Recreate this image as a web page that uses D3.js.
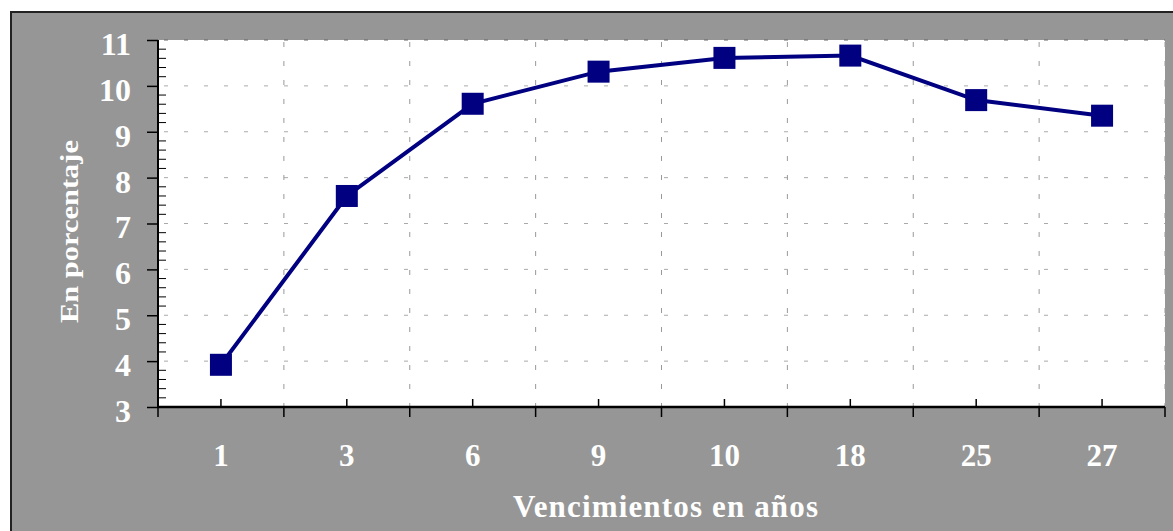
<!DOCTYPE html>
<html lang="en">
<head>
    <meta charset="UTF-8">
    <title>Vencimientos</title>
    <script src="https://d3js.org/d3.v7.min.js"></script>
    <style>
        body { margin: 0; background: #fff; }
        svg { display: block; }
    </style>
</head>
<body>
    <svg id="chart" width="1173" height="531"></svg>
    <script>
        // data
        const maturities = ["1", "3", "6", "9", "10", "18", "25", "27"];
        const rates = [3.92, 7.60, 9.61, 10.31, 10.61, 10.66, 9.69, 9.35];
        const yTicks = [3, 4, 5, 6, 7, 8, 9, 10, 11];

        const svg = d3.select("#chart");
        const width = +svg.attr("width");
        const height = +svg.attr("height");
        const margin = { top: 40, right: 8, bottom: 124, left: 158 };
        const plotWidth = width - margin.left - margin.right;
        const plotHeight = height - margin.top - margin.bottom;
        const serif = "'Liberation Serif', 'Times New Roman', serif";

        // grey frame
        svg.append("rect")
            .attr("x", 11).attr("y", 12)
            .attr("width", width).attr("height", height)
            .attr("fill", "#969696");
        svg.append("path")
            .attr("d", `M11,${height}V12H${width}`)
            .attr("fill", "none")
            .attr("stroke", "#222")
            .attr("stroke-width", 2);

        const plot = svg.append("g")
            .attr("transform", `translate(${margin.left},${margin.top})`);

        plot.append("rect")
            .attr("width", plotWidth).attr("height", plotHeight)
            .attr("fill", "#fff");

        const x = d3.scaleBand().domain(maturities).range([0, plotWidth]);
        const y = d3.scaleLinear().domain([3, 11]).range([plotHeight, 0]);

        // gridlines
        plot.append("g").selectAll("line")
            .data(yTicks.slice(1))
            .join("line")
            .attr("x1", 0).attr("x2", plotWidth)
            .attr("y1", d => y(d)).attr("y2", d => y(d))
            .attr("stroke", d => d === 11 ? "#666" : "#aaa")
            .attr("stroke-width", 1)
            .attr("stroke-dasharray", "4,16")
            .attr("stroke-dashoffset", -6);

        const bounds = maturities.map(m => x(m)).slice(1).concat([plotWidth]);
        plot.append("g").selectAll("line")
            .data(bounds)
            .join("line")
            .attr("x1", d => d).attr("x2", d => d)
            .attr("y1", 0).attr("y2", plotHeight)
            .attr("stroke", "#999")
            .attr("stroke-width", 1)
            .attr("stroke-dasharray", "5,14")
            .attr("stroke-dashoffset", -2);

        // y axis: major ticks outside, minor ticks inside
        const yMinor = d3.range(3, 11.001, 0.2).filter(v => Math.abs(v - Math.round(v)) > 0.01);
        plot.append("g").selectAll("line")
            .data(yMinor)
            .join("line")
            .attr("x1", 0).attr("x2", 8)
            .attr("y1", d => y(d)).attr("y2", d => y(d))
            .attr("stroke", "#000").attr("stroke-width", 1);

        const yAxis = plot.append("g")
            .call(d3.axisLeft(y).tickValues(yTicks).tickSize(11).tickPadding(6).tickFormat(d3.format("d")));
        yAxis.select(".domain").attr("stroke", "#000").attr("stroke-width", 2)
            .attr("d", `M0,0V${plotHeight}`);
        yAxis.selectAll(".tick line").attr("stroke", "#000").attr("stroke-width", 1.5);
        yAxis.selectAll(".tick text")
            .attr("x", -27)
            .attr("dy", "0.45em")
            .style("font-family", serif)
            .style("font-weight", "bold")
            .style("font-size", "32px")
            .attr("fill", "#fff");

        // x axis: major ticks at bounds downward, minor ticks at centers upward
        const xAxisG = plot.append("g").attr("transform", `translate(0,${plotHeight})`);
        xAxisG.append("line")
            .attr("x1", 0).attr("x2", plotWidth)
            .attr("stroke", "#000").attr("stroke-width", 2.5);
        xAxisG.selectAll(".major")
            .data([0].concat(bounds))
            .join("line")
            .attr("class", "major")
            .attr("x1", d => d).attr("x2", d => d)
            .attr("y1", 0).attr("y2", 10)
            .attr("stroke", "#000").attr("stroke-width", 1.5);
        xAxisG.selectAll(".minor")
            .data(maturities)
            .join("line")
            .attr("class", "minor")
            .attr("x1", d => x(d) + x.bandwidth() / 2).attr("x2", d => x(d) + x.bandwidth() / 2)
            .attr("y1", 0).attr("y2", -8)
            .attr("stroke", "#000").attr("stroke-width", 1.5);
        xAxisG.selectAll(".label")
            .data(maturities)
            .join("text")
            .attr("class", "label")
            .attr("x", d => x(d) + x.bandwidth() / 2)
            .attr("y", 59)
            .attr("text-anchor", "middle")
            .style("font-family", serif)
            .style("font-weight", "bold")
            .style("font-size", "31px")
            .attr("fill", "#fff")
            .text(d => d);

        // line + square markers
        const line = d3.line()
            .x((d, i) => x(maturities[i]) + x.bandwidth() / 2)
            .y(d => y(d));
        plot.append("path")
            .datum(rates)
            .attr("d", line)
            .attr("fill", "none")
            .attr("stroke", "#000080")
            .attr("stroke-width", 4);
        plot.selectAll(".marker")
            .data(rates)
            .join("rect")
            .attr("class", "marker")
            .attr("x", (d, i) => x(maturities[i]) + x.bandwidth() / 2 - 11)
            .attr("y", d => y(d) - 11)
            .attr("width", 22).attr("height", 22)
            .attr("fill", "#000080");

        // axis titles
        svg.append("text")
            .attr("x", 513)
            .attr("y", 517)
            .attr("textLength", 305)
            .attr("lengthAdjust", "spacing")
            .style("font-family", serif)
            .style("font-weight", "bold")
            .style("font-size", "31px")
            .attr("fill", "#fff")
            .text("Vencimientos en años");

        svg.append("text")
            .attr("transform", "translate(78,323) rotate(-90)")
            .attr("textLength", 183)
            .attr("lengthAdjust", "spacingAndGlyphs")
            .style("font-family", serif)
            .style("font-weight", "bold")
            .style("font-size", "26px")
            .attr("fill", "#fff")
            .text("En porcentaje");
    </script>
</body>
</html>
